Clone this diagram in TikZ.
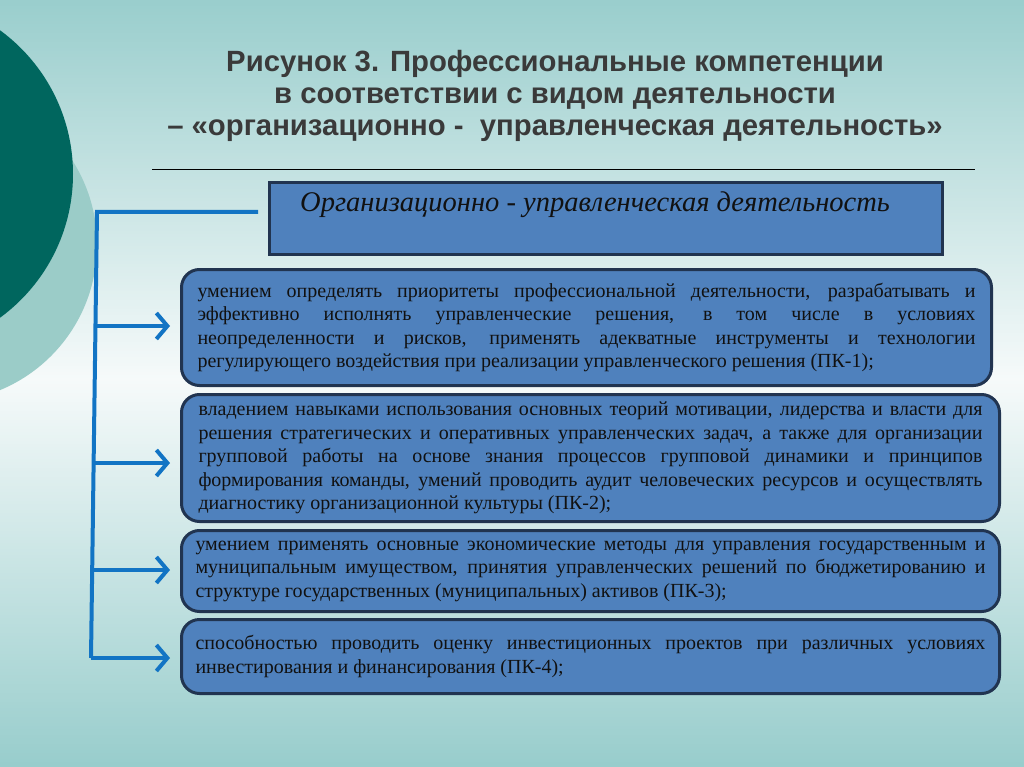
\documentclass[tikz,border=0pt]{standalone}
\usepackage{fontspec}
\setmainfont{Liberation Serif}
\newfontfamily\arialfont{Liberation Sans}
\usetikzlibrary{arrows.meta}
\definecolor{bgteal}{RGB}{152,205,204}
\definecolor{bgwhite}{RGB}{246,250,250}
\definecolor{darkteal}{RGB}{0,102,94}
\definecolor{lightteal}{RGB}{155,204,200}
\definecolor{boxfill}{RGB}{79,129,189}
\definecolor{boxline}{RGB}{33,52,80}
\definecolor{conn}{RGB}{18,116,196}
\definecolor{titlegray}{RGB}{58,58,58}
\definecolor{bodytext}{RGB}{17,17,17}
\newcommand{\jl}[2]{\makebox[#1][s]{#2}}
\tikzset{
  compbox/.style={draw=boxline, fill=boxfill, line width=3pt, rounded corners=18pt,
    inner sep=0pt, text=bodytext, font=\fontsize{20}{23.5}\selectfont},
  hdrbox/.style={draw=boxline, fill=boxfill, line width=3pt, inner sep=0pt},
  connline/.style={draw=conn, line width=4pt},
  connarrow/.style={draw=conn, line width=4pt, -{Straight Barb[length=11pt,width=26pt]}, shorten >=10pt},
}
\begin{document}
\begin{tikzpicture}[x=1pt,y=-1pt]
\useasboundingbox (0,0) rectangle (1024,767);
\clip (0,0) rectangle (1024,767);
% background gradient (teal - white - teal)
\foreach \yy in {0,3,...,765} {
  \pgfmathsetmacro{\pc}{min(100,100*(abs(\yy+1.5-380)/385))}
  \fill[bgteal!\pc!bgwhite] (0,\yy) rectangle (1024,\yy+3.6);
}
% circles
\fill[lightteal] (-60,245) circle[radius=157pt];
\fill[darkteal] (-105,174) circle[radius=178pt];
% title
\node[font=\arialfont\bfseries\fontsize{29.3}{32}\selectfont, text=titlegray, align=center] (title) at (555,95.5)
  {Рисунок 3. Профессиональные компетенции\\в соответствии с видом деятельности\\– «организационно -\ \ управленческая деятельность»};
\coordinate (ruleL) at (152,170);
\coordinate (ruleR) at (975,170);
\draw[black, line width=1pt] (ruleL) -- (ruleR);
% header box
\node[hdrbox, minimum width=673pt, minimum height=72pt, anchor=north west] (hdr) at (268,181) {};
\node[font=\itshape\fontsize{28.5}{30}\selectfont, text=bodytext] (hdrtxt) at (595,205) {Организационно - управленческая деятельность};
% competency boxes
\node[compbox, minimum width=810pt, minimum height=116pt, anchor=north west] (b1) at (180,268)
 {\parbox{778pt}{%
 \jl{778pt}{умением определять приоритеты профессиональной деятельности, разрабатывать и}\\
 \jl{778pt}{эффективно исполнять управленческие решения, в том числе в условиях}\\
 \jl{778pt}{неопределенности и рисков, применять адекватные инструменты и технологии}\\
 регулирующего воздействия при реализации управленческого решения (ПК-1);}};
\node[compbox, minimum width=818pt, minimum height=127pt, anchor=north west] (b2) at (180,393)
 {\parbox{784pt}{%
 \jl{784pt}{владением навыками использования основных теорий мотивации, лидерства и власти для}\\
 \jl{784pt}{решения стратегических и оперативных управленческих задач, а также для организации}\\
 \jl{784pt}{групповой работы на основе знания процессов групповой динамики и принципов}\\
 \jl{784pt}{формирования команды, умений проводить аудит человеческих ресурсов и осуществлять}\\
 диагностику организационной культуры (ПК-2);}};
\node[compbox, minimum width=818pt, minimum height=81pt, anchor=north west] (b3) at (180,529)
 {\parbox{790pt}{%
 \jl{790pt}{умением применять основные экономические методы для управления государственным и}\\
 \jl{790pt}{муниципальным имуществом, принятия управленческих решений по бюджетированию и}\\
 структуре государственных (муниципальных) активов (ПК-3);}};
\node[compbox, minimum width=818pt, minimum height=74pt, anchor=north west] (b4) at (180,618)
 {\parbox{790pt}{%
 \jl{790pt}{способностью проводить оценку инвестиционных проектов при различных условиях}\\
 инвестирования и финансирования (ПК-4);}};
% connectors
\coordinate (hdrend) at (258,212);
\coordinate (ttop) at (97,212);
\coordinate (t1) at (95.5,326);
\coordinate (t2) at (94.5,463);
\coordinate (t3) at (92.5,570);
\coordinate (tbot) at (91,658);
\draw[connline] (hdrend) -- (ttop) -- (tbot);
\draw[connarrow] (t1) -- (t1 -| b1.west);
\draw[connarrow] (t2) -- (t2 -| b2.west);
\draw[connarrow] (t3) -- (t3 -| b3.west);
\draw[connarrow] (tbot) -- (tbot -| b4.west);
\end{tikzpicture}
\end{document}
